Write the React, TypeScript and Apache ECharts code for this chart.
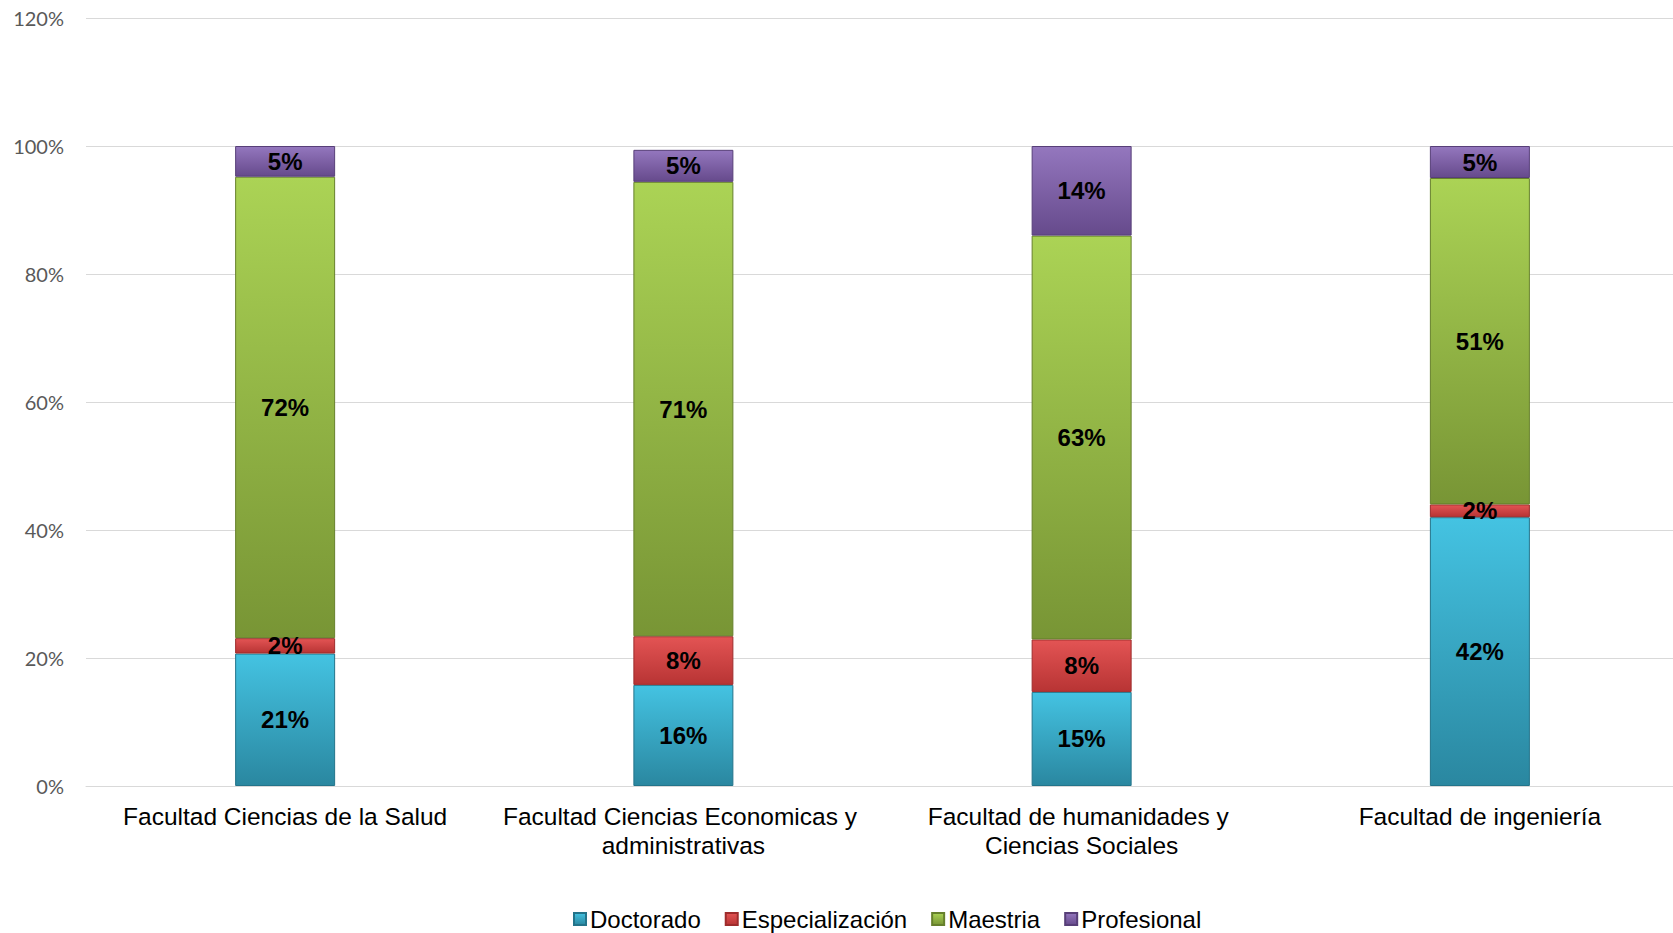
import React, { useEffect, useRef } from "react";
import * as echarts from "echarts";

const categories = [
  "Facultad Ciencias de la Salud",
  "Facultad Ciencias Economicas y administrativas",
  "Facultad de humanidades y Ciencias Sociales",
  "Facultad de ingeniería",
];
const seriesNames = ["Doctorado", "Especialización", "Maestria", "Profesional"];
const doctorado = [20.7, 15.8, 14.7, 42.0];
const especializacion = [2.4, 7.6, 8.2, 2.0];
const maestria = [72.1, 71.0, 63.1, 51.0];
const profesional = [4.8, 5.0, 14.0, 5.0];
const yTicks = { min: 0, max: 120, interval: 20 };

const palette = [
  { top: "#44C3E2", bottom: "#2A87A0", border: "#23748A" },
  { top: "#E35454", bottom: "#B83434", border: "#9E2C2C" },
  { top: "#ABD355", bottom: "#789535", border: "#66802C" },
  { top: "#9477BE", bottom: "#664A8C", border: "#573F78" },
];

export default function App() {
  const ref = useRef<HTMLDivElement>(null);
  useEffect(() => {
    if (!ref.current) return;
    const chart = echarts.init(ref.current, null, { renderer: "svg" });
    const values = [doctorado, especializacion, maestria, profesional];
    const series = seriesNames.map((name, i) => ({
      name,
      type: "bar",
      stack: "total",
      barWidth: 100,
      data: values[i],
      itemStyle: {
        color: new echarts.graphic.LinearGradient(0, 0, 0, 1, [
          { offset: 0, color: palette[i].top },
          { offset: 1, color: palette[i].bottom },
        ]),
        borderColor: palette[i].border,
        borderWidth: 1,
      },
      label: {
        show: true,
        position: "inside",
        formatter: (p: any) => Math.round(p.value) + "%",
        fontFamily: "Liberation Sans, Arial, sans-serif",
        fontWeight: "bold",
        fontSize: 24,
        color: "#000",
      },
    }));
    chart.setOption({
      animation: false,
      backgroundColor: "#fff",
      grid: { left: 86, right: 0, top: 18, bottom: 147, containLabel: false },
      xAxis: {
        type: "category",
        data: categories,
        axisLine: { show: true, lineStyle: { color: "#D9D9D9", width: 1 } },
        axisTick: { show: false },
        axisLabel: {
          margin: 16,
          fontFamily: "Liberation Sans, Arial, sans-serif",
          fontSize: 24.5,
          lineHeight: 29,
          color: "#000",
          width: 385,
          overflow: "break",
          interval: 0,
        },
      },
      yAxis: {
        type: "value",
        min: yTicks.min,
        max: yTicks.max,
        interval: yTicks.interval,
        axisLine: { show: false },
        axisTick: { show: false },
        splitLine: { lineStyle: { color: "#D9D9D9", width: 1 } },
        axisLabel: {
          margin: 22,
          formatter: "{value}%",
          fontFamily: "Lato, Open Sans, sans-serif",
          fontSize: 20,
          color: "#595959",
        },
      },
      legend: {
        top: 902,
        left: 568,
        icon: "rect",
        itemWidth: 12,
        itemHeight: 12,
        itemGap: 24,
        textStyle: {
          fontFamily: "Liberation Sans, Arial, sans-serif",
          fontSize: 24,
          color: "#000",
          padding: [0, 0, 0, -1],
        },
        data: seriesNames,
      },
      series,
    });
    return () => chart.dispose();
  }, []);
  return (
    <div
      style={{ position: "absolute", left: 0, top: 0, width: 1673, height: 933, overflow: "hidden" }}
    >
      <div ref={ref} style={{ width: 1679, height: 933 }} />
    </div>
  );
}
